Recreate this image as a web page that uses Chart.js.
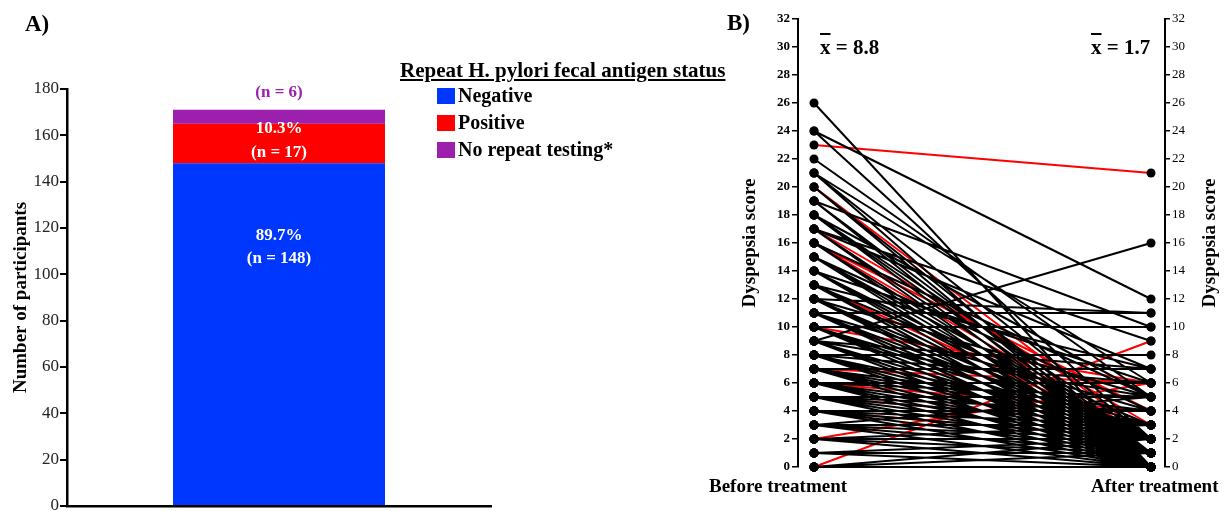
<!DOCTYPE html>
<html>
<head>
<meta charset="utf-8">
<script src="https://cdn.jsdelivr.net/npm/chart.js@4.4.1/dist/chart.umd.min.js"></script>
<style>
    html, body { margin: 0; padding: 0; background: #fff; }
    body {
        width: 1225px; height: 511px; overflow: hidden; position: relative;
        font-family: 'Liberation Serif', 'Times New Roman', serif; color: #000;
    }
    canvas { position: absolute; top: 0; }
    .txt { position: absolute; font-weight: bold; white-space: nowrap; line-height: 1; }
    .bar-x { text-decoration: overline; }
    #legend { position: absolute; left: 400px; top: 60px; font-weight: bold; }
    #legend .title { font-size: 21px; line-height: 1; text-decoration: underline; white-space: nowrap; }
    #legend .items { position: absolute; left: 37px; top: 22px; }
    #legend .row { display: flex; align-items: center; height: 27px; font-size: 20px; line-height: 27px; white-space: nowrap; }
    #legend .sw { width: 18px; height: 16px; margin-right: 3px; }
</style>
</head>
<body>

<canvas id="chartA" width="500" height="525" style="left:0"></canvas>
<canvas id="chartB" width="525" height="525" style="left:700px"></canvas>

<div class="txt" style="left:25px; top:12px; font-size:23px;">A)</div>
<div class="txt" style="left:727px; top:11px; font-size:23px;">B)</div>

<div id="legend">
    <div class="title">Repeat H. pylori fecal antigen status</div>
    <div class="items" id="legendItems"></div>
</div>

<div class="txt" id="meanBefore" style="left:820px; top:37px; font-size:21px;"></div>
<div class="txt" id="meanAfter" style="left:1091px; top:37px; font-size:21px;"></div>
<div class="txt" style="left:709px; top:476px; font-size:19px;">Before treatment</div>
<div class="txt" style="left:1091px; top:476px; font-size:19px;">After treatment</div>

<script>
// ---- Panel A: repeat fecal antigen status ----
const statusLabels = ['Negative', 'Positive', 'No repeat testing*'];
const statusCounts = [148, 17, 6];
const statusColors = ['#0037ff', '#ff0000', '#9c1fae'];

// ---- Panel B: dyspepsia score, one entry per participant ----
// black lines
const beforeNeg = [
    0, 0, 0, 0, 0, 0, 0,
    1, 1, 1, 1, 1, 1,
    2, 2, 2, 2, 2, 2,
    3, 3, 3, 3, 3, 3, 3, 3,
    4, 4, 4, 4, 4, 4, 4, 4,
    5, 5, 5, 5, 5, 5, 5, 5,
    6, 6, 6, 6, 6, 6, 6, 6,
    7, 7, 7, 7, 7, 7, 7, 7,
    8, 8, 8, 8, 8, 8, 8, 8, 8,
    9, 9, 9, 9, 9, 9, 9, 9,
    10, 10, 10, 10, 10, 10, 10,
    11, 11, 11, 11, 11, 11, 11,
    12, 12, 12, 12, 12, 12, 12,
    13, 13, 13, 13, 13,
    14, 14, 14, 14, 14,
    15, 15, 15, 15, 15,
    16, 16, 16, 16,
    17, 17, 17, 17,
    18, 18, 18, 18,
    19, 19, 19, 19,
    20, 20,
    21, 21, 21,
    22,
    24, 24,
    26,
];
const afterNeg = [
    0, 0, 0, 0, 1, 1, 2,
    0, 0, 0, 1, 1, 2,
    0, 0, 1, 1, 2, 3,
    0, 0, 1, 2, 3, 5, 0, 1,
    0, 0, 1, 2, 3, 4, 1, 0,
    0, 0, 1, 2, 3, 4, 5, 0,
    0, 0, 1, 2, 3, 5, 6, 0,
    0, 0, 1, 2, 3, 4, 7, 0,
    0, 0, 1, 2, 3, 6, 8, 1, 0,
    16, 0, 1, 2, 5, 7, 0, 0,
    0, 0, 1, 2, 3, 10, 0,
    0, 0, 1, 2, 4, 11, 0,
    0, 0, 1, 2, 5, 11, 0,
    0, 0, 1, 3, 7,
    0, 0, 1, 2, 6,
    0, 0, 1, 2, 4,
    0, 0, 1, 5,
    0, 1, 7, 9,
    0, 1, 2, 5,
    0, 1, 10, 0,
    0, 1,
    0, 2, 6,
    5,
    12, 2,
    0,
];
// red lines
const beforePos = [23, 20, 17, 16, 16, 13, 10, 7, 6, 5, 4, 2, 0];
const afterPos  = [21, 2, 3, 2, 4, 2, 6, 6, 4, 3, 2, 6, 9];

const meanBefore = '8.8';
const meanAfter = '1.7';

const scoreTicks = { min: 0, max: 32, step: 2 };

const FONT = "'Liberation Serif', 'Times New Roman', serif";

// legend + means (html text)
document.getElementById('legendItems').innerHTML = statusLabels.map((l, i) =>
    `<div class="row"><span class="sw" style="background:${statusColors[i]}"></span>${l}</div>`).join('');
document.getElementById('meanBefore').innerHTML = `<span class="bar-x">x</span> = ${meanBefore}`;
document.getElementById('meanAfter').innerHTML = `<span class="bar-x">x</span> = ${meanAfter}`;

// labels inside / above the stacked bar
const barLabels = {
    id: 'barLabels',
    afterDatasetsDraw(chart) {
        const { ctx } = chart;
        const tested = statusCounts[0] + statusCounts[1];
        ctx.save();
        ctx.font = `bold 17px ${FONT}`;
        ctx.textAlign = 'center';
        ctx.textBaseline = 'middle';
        chart.data.datasets.forEach((ds, i) => {
            const bar = chart.getDatasetMeta(i).data[0];
            const n = statusCounts[i];
            if (i === 2) {
                ctx.fillStyle = statusColors[2];
                ctx.fillText(`(n = ${n})`, bar.x, bar.y - 17);
                return;
            }
            const pct = (n / tested * 100).toFixed(1) + '%';
            ctx.fillStyle = '#fff';
            let y1, y2;
            if (i === 0) {
                y1 = bar.y + 72; y2 = bar.y + 95;
            } else {
                const mid = (bar.y + bar.base) / 2;
                y1 = mid - 15; y2 = mid + 9;
            }
            ctx.fillText(pct, bar.x, y1);
            ctx.fillText(`(n = ${n})`, bar.x, y2);
        });
        ctx.restore();
    },
};

new Chart(document.getElementById('chartA'), {
    type: 'bar',
    data: {
        labels: [''],
        datasets: statusLabels.map((label, i) => ({
            label,
            data: [statusCounts[i]],
            backgroundColor: statusColors[i],
            barPercentage: 0.5,
            categoryPercentage: 1,
            stack: 'status',
        })),
    },
    options: {
        responsive: false,
        animation: false,
        layout: { padding: { top: 89, right: 9, bottom: 19, left: 0 } },
        plugins: { legend: { display: false }, tooltip: { enabled: false } },
        scales: {
            x: {
                stacked: true,
                grid: { display: false },
                ticks: { display: false },
                border: { color: '#000', width: 2.5 },
                afterFit: (s) => { s.height = 0; },
            },
            y: {
                stacked: true,
                min: 0,
                max: 180,
                ticks: { stepSize: 20, color: '#222', padding: 1, font: { family: FONT, size: 17 } },
                grid: { drawOnChartArea: false, color: '#000', lineWidth: 2, tickLength: 7 },
                border: { color: '#000', width: 2.5 },
                title: {
                    display: true,
                    text: 'Number of participants',
                    color: '#000',
                    padding: { top: 10, bottom: 0 },
                    font: { family: FONT, size: 19, weight: 'bold' },
                },
                afterFit: (s) => { s.width = 67; },
            },
        },
    },
    plugins: [barLabels],
});

// ---- Panel B ----
function pairs(before, after) {
    const pts = [];
    before.forEach((b, i) => {
        pts.push({ x: 0, y: b }, { x: 1, y: after[i] }, { x: 0.5, y: null });
    });
    return pts;
}

const rightTitle = {
    id: 'rightTitle',
    afterDraw(chart) {
        const s = chart.scales.y2;
        const { ctx, chartArea } = chart;
        ctx.save();
        ctx.translate(s.right - 15, (chartArea.top + chartArea.bottom) / 2);
        ctx.rotate(-Math.PI / 2);
        ctx.font = `bold 19px ${FONT}`;
        ctx.fillStyle = '#000';
        ctx.textAlign = 'center';
        ctx.textBaseline = 'middle';
        ctx.fillText('Dyspepsia score', 0, 0);
        ctx.restore();
    },
};

const lineStyle = {
    borderWidth: 2,
    pointRadius: 4.5,
    pointBackgroundColor: '#000',
    pointBorderWidth: 0,
    spanGaps: false,
    clip: false,
};

new Chart(document.getElementById('chartB'), {
    type: 'line',
    data: {
        datasets: [
            { ...lineStyle, data: pairs(beforeNeg, afterNeg), borderColor: '#000' },
            { ...lineStyle, data: pairs(beforePos, afterPos), borderColor: '#ff0000' },
        ],
    },
    options: {
        responsive: false,
        animation: false,
        layout: { padding: { top: 19, right: 0, bottom: 58, left: 0 } },
        plugins: { legend: { display: false }, tooltip: { enabled: false } },
        scales: {
            x: { type: 'linear', min: -0.0475, max: 1.0415, display: false },
            y: {
                min: scoreTicks.min,
                max: scoreTicks.max,
                ticks: { stepSize: scoreTicks.step, color: '#000', padding: 2, font: { family: FONT, size: 13, weight: 'bold' } },
                grid: { drawOnChartArea: false, color: '#000', lineWidth: 1.5, tickLength: 6 },
                border: { color: '#000', width: 2 },
                title: {
                    display: true,
                    text: 'Dyspepsia score',
                    color: '#000',
                    padding: { top: 39, bottom: 0 },
                    font: { family: FONT, size: 19, weight: 'bold' },
                },
                afterFit: (s) => { s.width = 98; },
            },
            y2: {
                position: 'right',
                min: scoreTicks.min,
                max: scoreTicks.max,
                ticks: { stepSize: scoreTicks.step, color: '#000', padding: 2, font: { family: FONT, size: 13 } },
                grid: { drawOnChartArea: false, color: '#000', lineWidth: 1.5, tickLength: 5 },
                border: { color: '#000', width: 2 },
                afterFit: (s) => { s.width = 60; },
            },
        },
    },
    plugins: [rightTitle],
});
</script>
</body>
</html>
